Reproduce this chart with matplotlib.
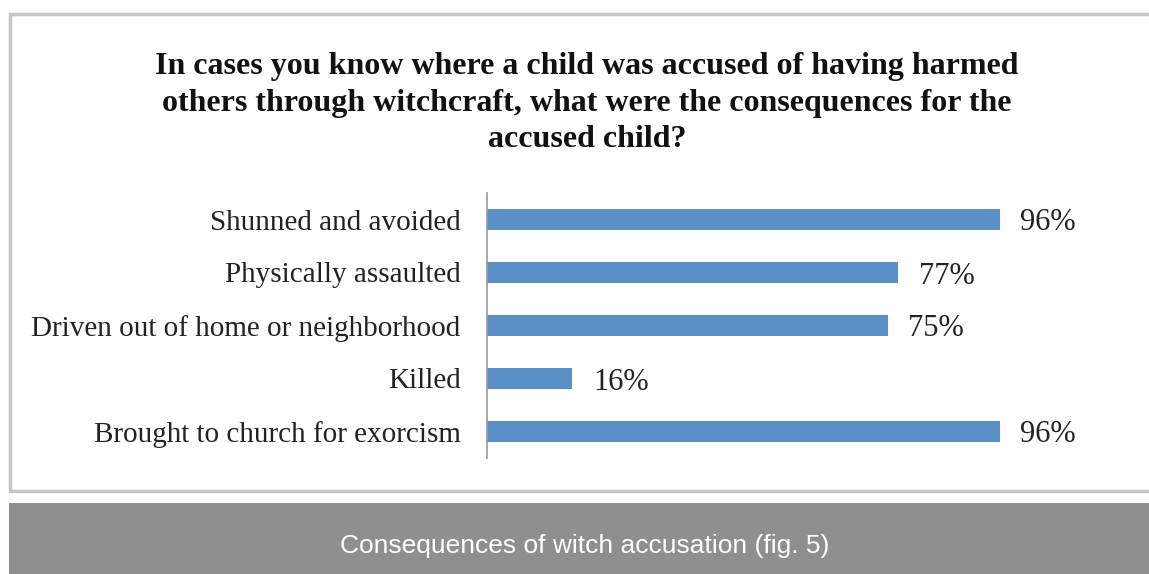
import matplotlib.pyplot as plt
from matplotlib.patches import Rectangle

categories = ["Shunned and avoided", "Physically assaulted",
              "Driven out of home or neighborhood", "Killed",
              "Brought to church for exorcism"]
percents = [96, 77, 75, 16, 96]
title = ("In cases you know where a child was accused of having harmed\n"
         "others through witchcraft, what were the consequences for the\n"
         "accused child?")
caption = "Consequences of witch accusation (fig. 5)"

W, H = 1149, 574
fig = plt.figure(figsize=(W / 100, H / 100), dpi=100)
fig.patch.set_facecolor("white")

def px(x0, y0, x1, y1):
    # pixel box -> figure fraction [left, bottom, width, height]
    return [x0 / W, 1 - y1 / H, (x1 - x0) / W, (y1 - y0) / H]

# framed chart area and the grey caption strip
l, b, w, h = px(10, 14, 1160, 491)
fig.patches.append(Rectangle((l, b), w, h, transform=fig.transFigure,
                             facecolor="white", edgecolor="#c6c6c6", lw=2.5,
                             zorder=-5))
l, b, w, h = px(9, 503, 1149, 574)
fig.patches.append(Rectangle((l, b), w, h, transform=fig.transFigure,
                             facecolor="#8f8f8f", edgecolor="none", zorder=-5))
fig.text(585 / W, 1 - 546 / H, caption, ha="center", va="center",
         color="white", fontsize=19, family="Liberation Sans")

fig.text(587 / W, 1 - 103 / H, title, ha="center", va="center",
         fontsize=23, fontweight="bold", family="Liberation Serif",
         linespacing=1.34, color="#111111")

ax = fig.add_axes(px(487, 193, 1021, 458))
ypos = list(range(len(categories)))
ax.barh(ypos, percents, height=0.38, color="#5b8fc8")
ax.set_xlim(0, 100)
ax.set_ylim(len(categories) - 0.5, -0.5)
ax.set_yticks(ypos)
ax.set_yticklabels(categories, family="Liberation Serif", fontsize=21,
                   color="#222222", va="center_baseline")
ax.tick_params(axis="y", length=0, pad=19)
ax.set_xticks([])
for s in ["top", "right", "bottom"]:
    ax.spines[s].set_visible(False)
ax.spines["left"].set_color("#999999")
ax.spines["left"].set_linewidth(1.2)
ax.patch.set_alpha(0)

for y, v in zip(ypos, percents):
    ax.text(v + 3.9, y, f"{v}%", va="center_baseline", ha="left",
            family="Liberation Serif", fontsize=22, color="#222222")

fig.savefig("out.png", dpi=100)
